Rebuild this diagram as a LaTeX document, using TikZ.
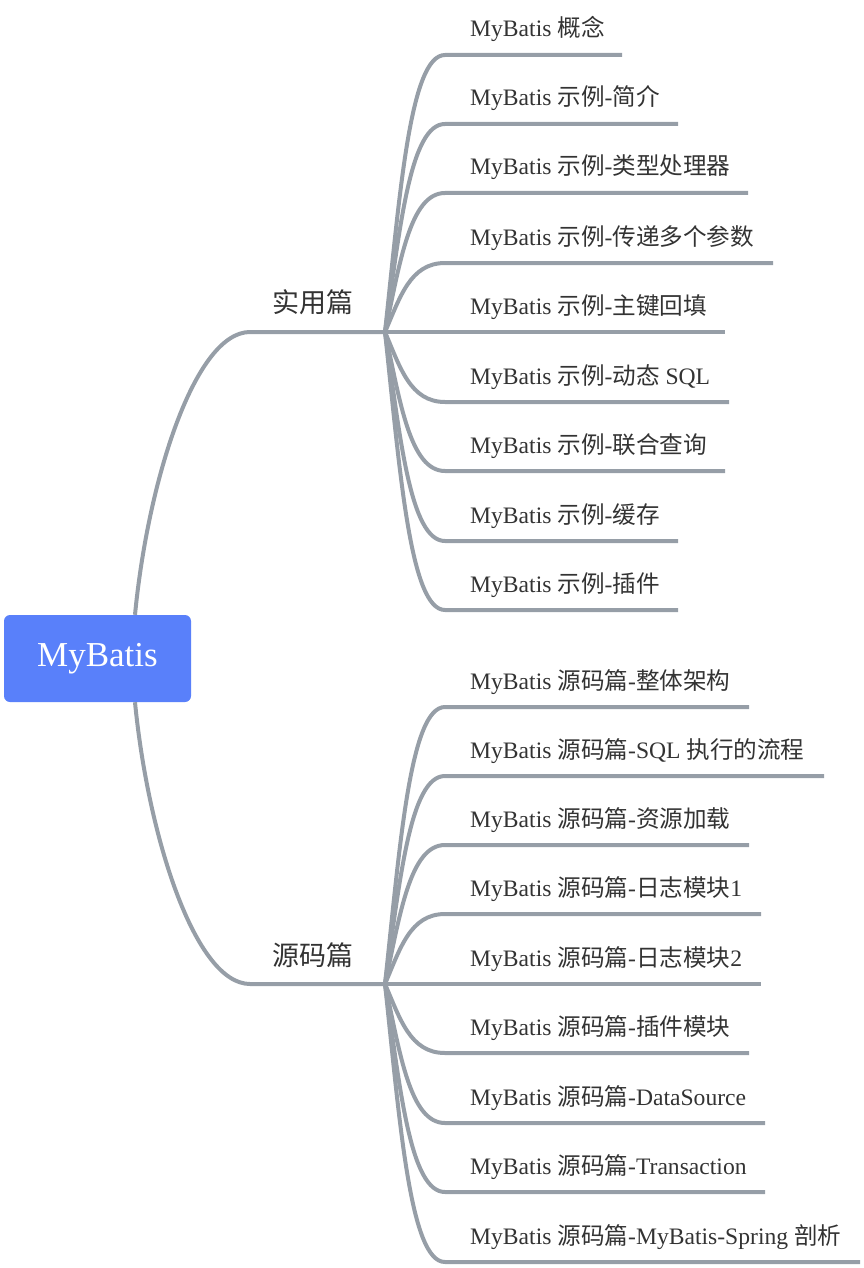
\documentclass[tikz,border=0pt]{standalone}
\usepackage{fontspec}
\setmainfont{Liberation Serif}
\newfontfamily\cjk{Noto Sans CJK SC}
\newcommand{\zh}[1]{{\cjk #1}}
\definecolor{rootBlue}{RGB}{89,128,250}
\definecolor{branchGray}{RGB}{150,158,167}
\definecolor{textGray}{RGB}{51,51,51}
\tikzset{
  branch/.style={draw=branchGray, line width=4pt},
  leaf/.style={anchor=base west, inner sep=0pt, text=textGray, font=\fontsize{23.6}{28}\selectfont},
  section/.style={text=textGray, font=\fontsize{27}{32}\selectfont\cjk},
}
\begin{document}
\begin{tikzpicture}[x=1pt,y=-1pt]
  \useasboundingbox (0,0) rectangle (864,1268);

  \node[fill=rootBlue, rounded corners=6pt, minimum width=187pt, minimum height=87pt,
        inner sep=0pt, text=white, font=\fontsize{35}{40}\selectfont] (root) at (97.5,658.5) {MyBatis};

  % section hubs
  \coordinate (up) at (385,332);
  \coordinate (dn) at (385,984);
  \node[section] (prac) at (313,302) {实用篇};
  \node[section] (src) at (313,955) {源码篇};

  % root to sections
  \draw[branch] ([xshift=37.5pt]root.north) .. controls (148,480) and (195,332) .. (250,332) -- (up);
  \draw[branch] ([xshift=37.5pt]root.south) .. controls (148,836) and (195,984) .. (250,984) -- (dn);

  % 实用篇 leaves
  \foreach \y/\e/\t [count=\i] in {
      55/622/{\zh{概念}},
      124/678/{\zh{示例}-\zh{简介}},
      193/748/{\zh{示例}-\zh{类型处理器}},
      263/773/{\zh{示例}-\zh{传递多个参数}},
      332/725/{\zh{示例}-\zh{主键回填}},
      402/729/{\zh{示例}-\zh{动态} SQL},
      471/725/{\zh{示例}-\zh{联合查询}},
      541/678/{\zh{示例}-\zh{缓存}},
      610/678/{\zh{示例}-\zh{插件}}} {
    \coordinate (u\i) at (445,\y);
    \coordinate (ue\i) at (\e,\y);
    \node[leaf] (ut\i) at (470,\y-18) {MyBatis \t};
    \draw[branch] (up) .. controls (400,{(332+\y)/2}) and (410,\y) .. (u\i) -- (ue\i);
  }

  % 源码篇 leaves
  \foreach \y/\e/\t [count=\i] in {
      707/749/{\zh{整体架构}},
      776/824/{SQL \zh{执行的流程}},
      845/749/{\zh{资源加载}},
      914/761/{\zh{日志模块}1},
      984/761/{\zh{日志模块}2},
      1053/749/{\zh{插件模块}},
      1123/765/{DataSource},
      1192/765/{Transaction},
      1262/860/{MyBatis-Spring \zh{剖析}}} {
    \coordinate (d\i) at (445,\y);
    \coordinate (de\i) at (\e,\y);
    \node[leaf] (dt\i) at (470,\y-18) {MyBatis \zh{源码篇}-\t};
    \draw[branch] (dn) .. controls (400,{(984+\y)/2}) and (410,\y) .. (d\i) -- (de\i);
  }
\end{tikzpicture}
\end{document}
